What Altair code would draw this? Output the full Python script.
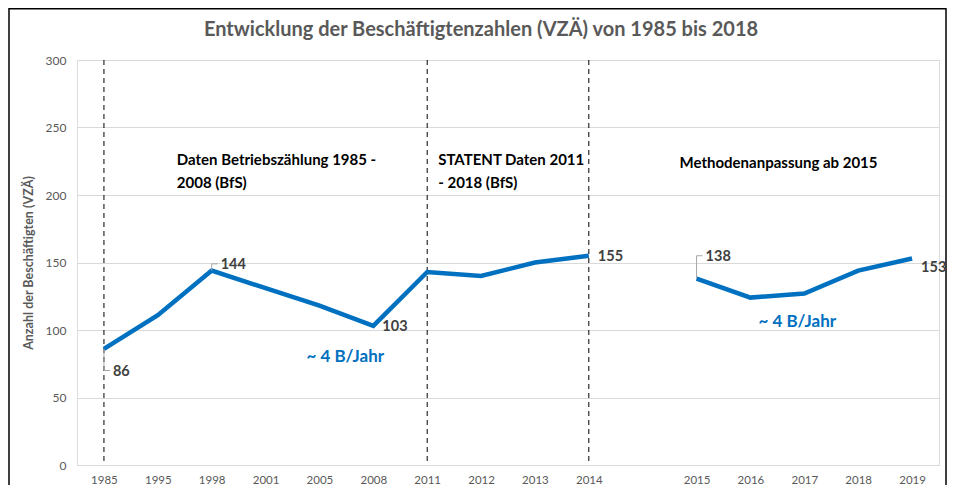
import altair as alt
import pandas as pd

# ---- data ----
title_text = "Entwicklung der Beschäftigtenzahlen (VZÄ) von 1985 bis 2018"
years = ["1985", "1995", "1998", "2001", "2005", "2008", "2011", "2012", "2013", "2014",
         "2015", "2016", "2017", "2018", "2019"]
employees = [86, 111, 144, 131, 118, 103, 143, 140, 150, 155,
             138, 124, 127, 144, 153]
segment = ["1985-2014"] * 10 + ["2015-2019"] * 5
x_domain = ["1985", "1995", "1998", "2001", "2005", "2008", "2011", "2012", "2013", "2014",
            " ", "2015", "2016", "2017", "2018", "2019"]

break_years = ["1985", "2011", "2014"]

label_years = ["1985", "1998", "2008", "2014", "2015", "2019"]
label_text = ["86", "144", "103", "155", "138", "153"]
label_y = [69, 148, 102, 154, 154, 146]

leader_years = ["1985", "1998", "2015"]
leader_from = [86, 144, 138]
leader_to = [70, 149, 155]

FONT = "Lato"
BLUE = "#0070C0"
GREY = "#595959"

df = pd.DataFrame({"year": years, "value": employees, "seg": segment})
df_break = pd.DataFrame({"year": break_years, "top": [300] * 3, "bottom": [0] * 3})
df_lab = pd.DataFrame({"year": label_years, "text": label_text, "y": label_y})
df_lead = pd.DataFrame({"year": leader_years, "a": leader_from, "b": leader_to})

xscale = alt.Scale(domain=x_domain, type="point", padding=0.5)
yscale = alt.Scale(domain=[0, 300])

X = alt.X("year:N", scale=xscale, sort=x_domain,
          axis=alt.Axis(title=None, labelAngle=0, domain=False, ticks=False, grid=False,
                        labelColor=GREY, labelFont=FONT, labelFontSize=11.5, labelPadding=9))

base = alt.Chart(df)
one = pd.DataFrame({"k": [0]})

frame = alt.Chart(one).mark_rect(
    fill=None, stroke="#000000", strokeWidth=1.5
).encode(x=alt.value(-68), x2=alt.value(869), y=alt.value(-51.2), y2=alt.value(460))

title = alt.Chart(one).mark_text(
    text=title_text, font=FONT, fontSize=20, fontWeight="bold", color=GREY,
    align="center", baseline="middle"
).encode(x=alt.value(404), y=alt.value(-30))

grid = base.mark_line(opacity=0).encode(
    x=X,
    y=alt.Y("value:Q", scale=yscale,
            axis=alt.Axis(title="Anzahl der Beschäftigten (VZÄ)", values=[0, 50, 100, 150, 200, 250, 300],
                          domain=False, ticks=False, gridColor="#d9d9d9", gridWidth=1,
                          labelColor=GREY, labelFont=FONT, labelFontSize=12, labelPadding=11,
                          titleColor=GREY, titleFont=FONT, titleFontSize=12.5, titleFontWeight="bold",
                          titlePadding=10)),
)

rules = alt.Chart(df_break).mark_rule(color="#000000", strokeDash=[5, 4], strokeWidth=1).encode(
    x=alt.X("year:N", scale=xscale), y=alt.Y("top:Q", scale=yscale), y2="bottom:Q"
)

line = base.mark_line(color=BLUE, strokeWidth=4.5).encode(
    x=alt.X("year:N", scale=xscale), y=alt.Y("value:Q", scale=yscale), detail="seg:N"
)

lead_v = alt.Chart(df_lead).mark_rule(color="#a6a6a6", strokeWidth=1).encode(
    x=alt.X("year:N", scale=xscale), y=alt.Y("a:Q", scale=yscale), y2="b:Q"
)
lead_h = alt.Chart(df_lead).mark_rule(color="#a6a6a6", strokeWidth=1, x2Offset=6).encode(
    x=alt.X("year:N", scale=xscale), x2="year:N", y=alt.Y("b:Q", scale=yscale)
)

labels = alt.Chart(df_lab).mark_text(
    align="left", baseline="middle", dx=9, font=FONT, fontSize=14.5, fontWeight="bold", color="#404040"
).encode(x=alt.X("year:N", scale=xscale), y=alt.Y("y:Q", scale=yscale), text="text:N")


def note(year, yval, txt, dx, color="#000000", size=15):
    d = pd.DataFrame({"year": [year], "y": [yval], "t": [txt]})
    return alt.Chart(d).mark_text(
        align="left", baseline="middle", dx=dx, font=FONT, fontSize=size, fontWeight="bold", color=color
    ).encode(x=alt.X("year:N", scale=xscale), y=alt.Y("y:Q", scale=yscale), text="t:N")


notes = [
    note("1995", 226, "Daten Betriebszählung 1985 -", 19),
    note("1995", 209, "2008 (BfS)", 19),
    note("2011", 226, "STATENT Daten 2011", 11),
    note("2011", 209, "- 2018 (BfS)", 11),
    note("2015", 224, "Methodenanpassung ab 2015", -17),
    note("2005", 80, "~ 4 B/Jahr", -13, BLUE, 17),
    note("2016", 106, "~ 4 B/Jahr", 8, BLUE, 17),
]

chart = alt.layer(frame, title, grid, rules, line, lead_v, lead_h, labels, *notes).properties(
    width=862, height=405,
    padding={"left": 69, "top": 52, "right": 9, "bottom": 20},
    autosize=alt.AutoSizeParams(type="none"),
).configure_view(stroke=None).configure(background="#ffffff")

chart.save("out.html", embed_options={"renderer": "svg", "actions": False})
